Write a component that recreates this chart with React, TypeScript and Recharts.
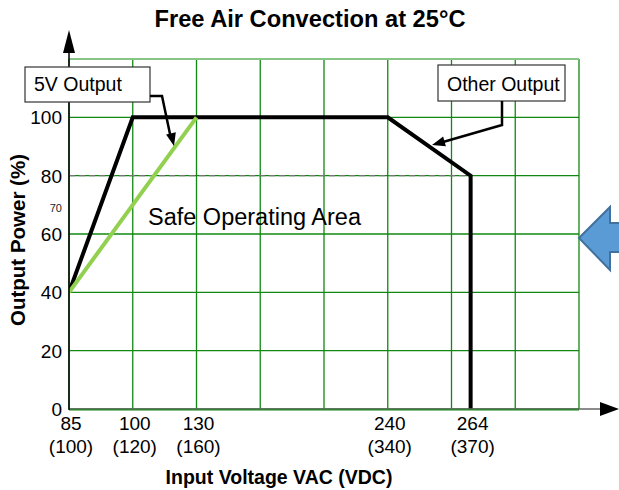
import React from "react";
import { ComposedChart, Line, XAxis, YAxis, ReferenceLine } from "recharts";

// Derating curve, values.
const VAC_TICKS = [85, 100, 130, 240, 264];
const VDC_TICKS = [100, 120, 160, 340, 370];
// the voltage axis is not drawn to scale: grid column under each tick label
const TICK_COLUMN = [0, 1, 2, 5, 6.3];
const LOAD_TICKS = [0, 20, 40, 60, 70, 80, 100];
const GRID_COLUMNS = [0, 1, 2, 3, 4, 5, 6, 7, 8];
const GRID_ROWS = [0, 20, 40, 60, 80, 100, 120];

const V5_VOLTS = [85, 130];
const V5_LOAD = [40, 100];
const OTHER_VOLTS = [85, 100, 240, 264, 264];
const OTHER_LOAD = [40, 100, 100, 80, 0];
const RATED_LOAD = 80;

const FONT = '"Liberation Sans", Arial, sans-serif';
const GRID = "#118811";
const GRID_TOP = "#86c586";
const LIME = "#92D050";

// map a voltage onto the (piecewise) grid column scale
function column(v: number) {
  for (let i = 1; i < VAC_TICKS.length; i++) {
    if (v <= VAC_TICKS[i]) {
      const t = (v - VAC_TICKS[i - 1]) / (VAC_TICKS[i] - VAC_TICKS[i - 1]);
      return TICK_COLUMN[i - 1] + t * (TICK_COLUMN[i] - TICK_COLUMN[i - 1]);
    }
  }
  return TICK_COLUMN[TICK_COLUMN.length - 1];
}

const v5Data = V5_VOLTS.map((v, i) => ({ x: column(v), load: V5_LOAD[i] }));
const otherData = OTHER_VOLTS.map((v, i) => ({ x: column(v), load: OTHER_LOAD[i] }));

function VoltTick(props: any) {
  const { x, y, payload } = props;
  const i = TICK_COLUMN.findIndex((c) => Math.abs(c - payload.value) < 1e-6);
  if (i < 0) return null;
  return (
    <text x={x + 2} textAnchor="middle" fontSize={19} fill="#000" fontFamily={FONT}>
      <tspan x={x + 2} y={y + 13}>{VAC_TICKS[i]}</tspan>
      <tspan x={x + 2} y={y + 36}>({VDC_TICKS[i]})</tspan>
    </text>
  );
}

function LoadTick(props: any) {
  const { x, y, payload } = props;
  const small = payload.value === 70;
  return (
    <text
      x={x + 1}
      y={y + (small ? 3 : 0)}
      dy="0.36em"
      textAnchor="end"
      fontSize={small ? 11 : 19}
      fill={small ? "#222" : "#000"}
      fontFamily={FONT}
    >
      {payload.value}
    </text>
  );
}

function arrowHead(from: [number, number], tip: [number, number], len = 13, half = 5) {
  const dx = tip[0] - from[0];
  const dy = tip[1] - from[1];
  const d = Math.hypot(dx, dy);
  const ux = dx / d;
  const uy = dy / d;
  const bx = tip[0] - ux * len;
  const by = tip[1] - uy * len;
  return `${tip[0]},${tip[1]} ${bx - uy * half},${by + ux * half} ${bx + uy * half},${by - ux * half}`;
}

function Overlay() {
  return (
    <svg
      width={619}
      height={490}
      style={{ position: "absolute", left: 0, top: 0, pointerEvents: "none", fontFamily: FONT }}
    >
      <text x={310} y={27} textAnchor="middle" fontSize={23} fontWeight="bold" textLength={311} lengthAdjust="spacingAndGlyphs">
        Free Air Convection at 25°C
      </text>

      {/* axes with arrow heads */}
      <line x1={69} y1={409} x2={601} y2={409} stroke="#666" strokeWidth={1.5} />
      <line x1={69} y1={410} x2={579} y2={410} stroke={GRID} strokeWidth={1.2} />
      <polygon points="619,409 600,402 600,416" fill="#000" />
      <line x1={69} y1={410} x2={69} y2={50} stroke="#000" strokeWidth={1.5} />
      <polygon points="69,30 63,53 75,53" fill="#000" />

      <text x={148} y={225} fontSize={23.5} fill="#000">Safe Operating Area</text>

      {/* 5V callout */}
      <rect x={25} y={67} width={125} height={35} fill="#fff" stroke="#333" strokeWidth={1.2} />
      <text x={34} y={91} fontSize={19.5} fill="#000">5V Output</text>
      <polyline points="150,96 162,96 170,134" fill="none" stroke="#000" strokeWidth={2.5} />
      <polygon points={arrowHead([162, 96], [174, 146])} fill="#000" />

      {/* other outputs callout */}
      <rect x={438} y={65} width={127} height={36} fill="#fff" stroke="#333" strokeWidth={1.2} />
      <text x={447} y={91} fontSize={19.5} fill="#000">Other Output</text>
      <polyline points="502,101 502,125 443,142" fill="none" stroke="#000" strokeWidth={2.5} />
      <polygon points={arrowHead([502, 125], [432, 145])} fill="#000" />

      <text
        transform="translate(25,240) rotate(-90)"
        textAnchor="middle"
        fontSize={20.5}
        fontWeight="bold"
        fill="#000"
      >
        Output Power (%)
      </text>
      <text x={279} y={484} textAnchor="middle" fontSize={19.5} fontWeight="bold" fill="#000">
        Input Voltage VAC (VDC)
      </text>

      <polygon
        points="579,238 610,207 610,223 622,223 622,252 610,252 610,270"
        fill="#5B9BD5"
        stroke="#41719C"
        strokeWidth={2}
        strokeLinejoin="miter"
      />
    </svg>
  );
}

export default function App() {
  return (
    <div style={{ position: "absolute", left: 0, top: 0, width: 619, height: 490, background: "#fff" }}>
      <ComposedChart
        width={619}
        height={490}
        margin={{ top: 59, right: 40, left: 0, bottom: 0 }}
        style={{ fontFamily: FONT }}
      >
        <XAxis
          type="number"
          dataKey="x"
          domain={[0, 8]}
          ticks={TICK_COLUMN}
          height={81}
          axisLine={false}
          tickLine={false}
          tick={<VoltTick />}
          allowDataOverflow
        />
        <YAxis
          type="number"
          domain={[0, 120]}
          ticks={LOAD_TICKS}
          width={69}
          axisLine={false}
          tickLine={false}
          tick={<LoadTick />}
          allowDataOverflow
        />
        {GRID_COLUMNS.map((c) => (
          <ReferenceLine key={"c" + c} x={c} stroke={GRID} strokeWidth={1.3} />
        ))}
        {GRID_ROWS.map((r) => (
          <ReferenceLine
            key={"r" + r}
            y={r}
            stroke={r === 120 ? GRID_TOP : GRID}
            strokeWidth={r === 120 ? 2 : 1.3}
          />
        ))}
        <ReferenceLine
          segment={[
            { x: column(85), y: RATED_LOAD },
            { x: column(264), y: RATED_LOAD },
          ]}
          stroke="#777"
          strokeWidth={1.3}
          strokeDasharray="6 4"
        />
        <Line
          data={otherData}
          dataKey="load"
          type="linear"
          stroke="#000"
          strokeWidth={4}
          dot={false}
          activeDot={false}
          isAnimationActive={false}
        />
        <Line
          data={v5Data}
          dataKey="load"
          type="linear"
          stroke={LIME}
          strokeWidth={4}
          dot={false}
          activeDot={false}
          isAnimationActive={false}
        />
      </ComposedChart>
      <Overlay />
    </div>
  );
}
